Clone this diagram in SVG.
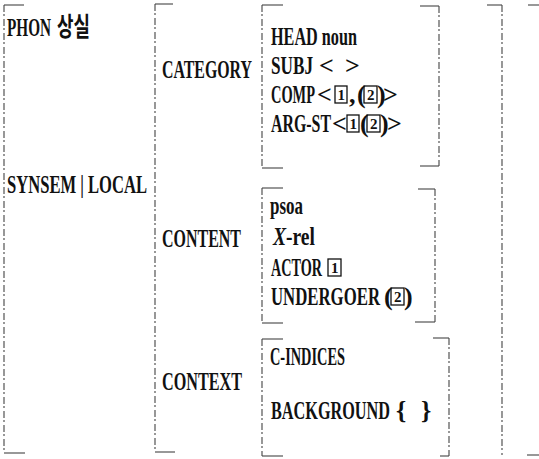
<svg xmlns="http://www.w3.org/2000/svg" width="539" height="459" viewBox="0 0 539 459">
<style>
.t{font-family:"Liberation Serif","DejaVu Serif",serif;font-size:26px;font-weight:bold;fill:#111}
.k{font-family:"Noto Sans CJK KR",sans-serif;font-weight:bold}
.d{font-size:15px}
.br{fill:none;stroke:#333;stroke-width:1.2}
.dv{fill:none;stroke:#444;stroke-width:1.1;stroke-dasharray:7 2 2 3}
.bx{fill:none;stroke:#111;stroke-width:1.3}
</style>
<rect width="539" height="459" fill="#fff"/>
<g id="brackets">
<path class="br" d="M24,5H4M4,453H25M528,5H539M527,455H539"/>
<path class="dv" d="M4,5V453"/>
<path class="br" d="M173,4H155M155,452H175M487,5H502"/>
<path class="dv" d="M155,4V452M502,5V455"/>
<path class="br" d="M283,5H262M262,168H283M420,6H439M439,166H420"/>
<path class="dv" d="M262,5V168M439,6V166"/>
<path class="br" d="M283,188H262M262,323H283M418,189H435M435,322H415"/>
<path class="dv" d="M262,188V323M435,189V322"/>
<path class="br" d="M283,339H262M262,456H283M433,338H449M449,456H440"/>
<path class="dv" d="M262,339V456M449,338V456"/>
</g>
<g id="phon"><text class="t" x="7" y="36" textLength="44" lengthAdjust="spacingAndGlyphs">PHON</text><text class="t k" x="57" y="36" font-size="21" textLength="33" lengthAdjust="spacingAndGlyphs">상실</text></g>
<g id="synsem"><text class="t" x="7" y="193" textLength="140" lengthAdjust="spacingAndGlyphs">SYNSEM | LOCAL</text></g>
<g id="category-label"><text class="t" x="162" y="78" textLength="90" lengthAdjust="spacingAndGlyphs">CATEGORY</text></g>
<g id="content-label"><text class="t" x="162" y="247" textLength="79" lengthAdjust="spacingAndGlyphs">CONTENT</text></g>
<g id="context-label"><text class="t" x="162" y="390" textLength="80" lengthAdjust="spacingAndGlyphs">CONTEXT</text></g>
<g id="category">
<text class="t" x="271" y="45" textLength="86" lengthAdjust="spacingAndGlyphs">HEAD noun</text>
<text class="t" x="271" y="74" textLength="42" lengthAdjust="spacingAndGlyphs">SUBJ</text>
<text class="t" y="74"><tspan x="319">&lt;</tspan><tspan x="345">&gt;</tspan></text>
<text class="t" x="271" y="103" textLength="44" lengthAdjust="spacingAndGlyphs">COMP</text>
<rect class="bx" x="335" y="86" width="12" height="17"/>
<rect class="bx" x="364" y="86" width="13" height="17"/>
<text class="t" y="103"><tspan x="317">&lt;</tspan><tspan class="d" x="337.5" y="100">1</tspan><tspan x="349" y="103">,</tspan><tspan x="357">(</tspan><tspan class="d" x="367" y="100">2</tspan><tspan x="377" y="103">)</tspan><tspan x="383">&gt;</tspan></text>
<text class="t" x="271" y="132" textLength="60" lengthAdjust="spacingAndGlyphs">ARG-ST</text>
<rect class="bx" x="347" y="115" width="12" height="17"/>
<rect class="bx" x="367" y="115" width="13" height="17"/>
<text class="t" y="132"><tspan x="332">&lt;</tspan><tspan class="d" x="349.5" y="129">1</tspan><tspan x="360" y="132">(</tspan><tspan class="d" x="370" y="129">2</tspan><tspan x="380" y="132">)</tspan><tspan x="387">&gt;</tspan></text>
</g>
<g id="content">
<text class="t" x="270" y="214" textLength="33" lengthAdjust="spacingAndGlyphs">psoa</text>
<text class="t" x="273" y="245" textLength="42" lengthAdjust="spacingAndGlyphs"><tspan font-style="italic">X</tspan>-rel</text>
<text class="t" x="271" y="276" textLength="51" lengthAdjust="spacingAndGlyphs">ACTOR</text>
<rect class="bx" x="328" y="259" width="13" height="17"/>
<text class="t d" x="331" y="273">1</text>
<text class="t" x="271" y="305" textLength="109" lengthAdjust="spacingAndGlyphs">UNDERGOER</text>
<rect class="bx" x="391" y="288" width="13" height="17"/>
<text class="t" y="305"><tspan x="384">(</tspan><tspan class="d" x="394" y="302">2</tspan><tspan x="404" y="305">)</tspan></text>
</g>
<g id="context">
<text class="t" x="270" y="365" textLength="75" lengthAdjust="spacingAndGlyphs">C-INDICES</text>
<text class="t" x="271" y="419" textLength="119" lengthAdjust="spacingAndGlyphs">BACKGROUND</text>
<text class="t" y="419"><tspan x="396">{</tspan><tspan x="421">}</tspan></text>
</g>
</svg>
